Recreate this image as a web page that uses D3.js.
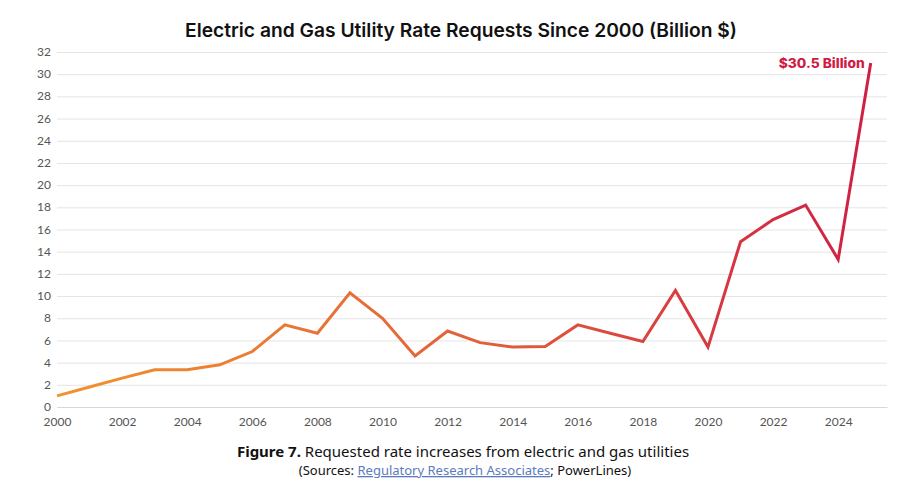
<!DOCTYPE html>
<html lang="en">
<head>
  <meta charset="UTF-8">
  <title>Electric and Gas Utility Rate Requests Since 2000</title>
  <script src="https://d3js.org/d3.v7.min.js"></script>
  <style>
    body {
      margin: 0;
      background: #fff;
      font-family: Lato, sans-serif;
    }
    .tick text {
      fill: #555;
      font-size: 12px;
      font-family: Lato, sans-serif;
    }
  </style>
</head>
<body>
<svg width="922" height="499"></svg>

<script>
const years = d3.range(2000, 2026);
const requests = [1.0, 1.8, 2.6, 3.35, 3.35, 3.8, 5.0, 7.4, 6.65, 10.3, 8.0, 4.6, 6.85,
                  5.8, 5.4, 5.45, 7.4, 6.65, 5.9, 10.5, 5.4, 14.9, 16.9, 18.2, 13.3, 31.0];
const yTicks = d3.range(0, 33, 2);
const xTicks = d3.range(2000, 2025, 2);

const svg = d3.select("svg");
const plotLeft = 57, plotRight = 887, plotTop = 52, plotBottom = 407;

const x = d3.scaleLinear().domain([2000, 2025.5]).range([plotLeft, plotRight]);
const y = d3.scaleLinear().domain([0, 32]).range([plotBottom, plotTop]);

// gradient along the line, orange to crimson
const grad = svg.append("defs").append("linearGradient")
  .attr("id", "lineGrad")
  .attr("gradientUnits", "userSpaceOnUse")
  .attr("x1", x(2000)).attr("x2", x(2025))
  .attr("y1", 0).attr("y2", 0);
grad.append("stop").attr("offset", "0%").attr("stop-color", "#f3922f");
grad.append("stop").attr("offset", "50%").attr("stop-color", "#e2623a");
grad.append("stop").attr("offset", "100%").attr("stop-color", "#cf1f44");

// title
svg.append("text")
  .attr("x", 461)
  .attr("y", 37)
  .attr("text-anchor", "middle")
  .attr("textLength", 552)
  .attr("lengthAdjust", "spacingAndGlyphs")
  .style("font-family", "Inter, sans-serif")
  .style("font-weight", 600)
  .style("font-size", "19px")
  .style("fill", "#111")
  .text("Electric and Gas Utility Rate Requests Since 2000 (Billion $)");

// y axis with gridlines
const yAxis = svg.append("g")
  .attr("transform", `translate(${plotLeft},0)`)
  .call(d3.axisLeft(y).tickValues(yTicks).tickSize(-(plotRight - plotLeft)).tickPadding(6));
yAxis.select(".domain").remove();
yAxis.selectAll(".tick line").attr("stroke", "#e4e4e4").attr("stroke-width", 1);
yAxis.selectAll(".tick text").attr("dy", "0.3em");

// x axis labels
const xAxis = svg.append("g")
  .attr("transform", `translate(0,${plotBottom})`)
  .call(d3.axisBottom(x).tickValues(xTicks).tickFormat(d3.format("d")).tickSize(0).tickPadding(10));
xAxis.select(".domain").attr("stroke", "#d8d8d8");

// the line
const line = d3.line()
  .x((d, i) => x(years[i]))
  .y(d => y(d));

svg.append("path")
  .datum(requests)
  .attr("fill", "none")
  .attr("stroke", "url(#lineGrad)")
  .attr("stroke-width", 3)
  .attr("stroke-linejoin", "miter")
  .attr("d", line);

// end label
svg.append("text")
  .attr("x", x(2025) - 6)
  .attr("y", y(requests[requests.length - 1]) + 5)
  .attr("text-anchor", "end")
  .attr("textLength", 86)
  .attr("lengthAdjust", "spacingAndGlyphs")
  .style("font-family", "Inter, sans-serif")
  .style("font-weight", 800)
  .style("font-size", "13px")
  .style("fill", "#d01c45")
  .text("$30.5 Billion");

// caption
const cap = svg.append("text")
  .attr("x", 463)
  .attr("y", 457)
  .attr("text-anchor", "middle")
  .style("font-family", "'Noto Sans', sans-serif")
  .style("font-size", "15px")
  .style("fill", "#111");
cap.append("tspan").style("font-weight", 700).text("Figure 7.");
cap.append("tspan").text(" Requested rate increases from electric and gas utilities");

const src = svg.append("text")
  .attr("x", 465)
  .attr("y", 475)
  .attr("text-anchor", "middle")
  .style("font-family", "'Noto Sans', sans-serif")
  .style("font-size", "13px")
  .style("fill", "#111");
src.append("tspan").text("(Sources: ");
src.append("tspan").style("fill", "#5b7bbd").style("text-decoration", "underline").text("Regulatory Research Associates");
src.append("tspan").text("; PowerLines)");
</script>
</body>
</html>
